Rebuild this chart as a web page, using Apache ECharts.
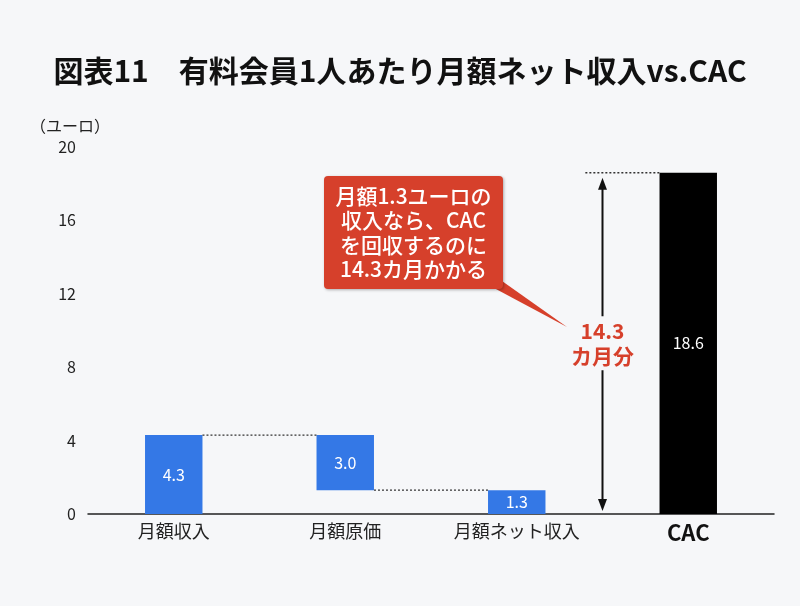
<!DOCTYPE html>
<html>
<head>
<meta charset="utf-8">
<script src="https://cdn.jsdelivr.net/npm/echarts@6/dist/echarts.min.js"></script>
<style>
html,body{margin:0;padding:0;background:#f6f7f9;}
#c{width:800px;height:606px;}
</style>
</head>
<body>
<div id="c"></div>
<script>
const categories = ['月額収入', '月額原価', '月額ネット収入', 'CAC'];
const baseValues = [0, 1.3, 0, 0];
const barValues = [4.3, 3.0, 1.3, 18.6];
const yTicks = [0, 4, 8, 12, 16, 20];
const connectorLevels = [4.3, 1.3]; // between bar i and i+1
const cacValue = 18.6;
const paybackMonths = 14.3;

const FONT = '"Noto Sans CJK JP", "Noto Sans", sans-serif';
const BLUE = '#3478e6';
const RED = '#d6402b';
const BG = '#f6f7f9';
const BAR_RATIO = 0.335;

const chart = echarts.init(document.getElementById('c'));

function renderAnno(params, api) {
  const band = api.size([1, 0])[0];
  const half = band * BAR_RATIO / 2;
  const children = [];
  const dotted = { stroke: '#333', lineWidth: 1.4, lineDash: [2, 2] };
  connectorLevels.forEach(function (lv, i) {
    const p1 = api.coord([i, lv]);
    const p2 = api.coord([i + 1, lv]);
    children.push({ type: 'line', shape: { x1: p1[0] + half, y1: p1[1], x2: p2[0] - half, y2: p2[1] }, style: dotted });
  });
  const cacIdx = categories.length - 1;
  const prevTop = api.coord([cacIdx - 1, cacValue]);
  const cacTop = api.coord([cacIdx, cacValue]);
  const cacBot = api.coord([cacIdx, 0]);
  children.push({ type: 'line', shape: { x1: prevTop[0] + band * 0.4, y1: cacTop[1], x2: cacTop[0] - half, y2: cacTop[1] }, style: dotted });
  const x = (prevTop[0] + cacTop[0]) / 2;
  const yT = cacTop[1] + 5, yB = cacBot[1] - 3;
  children.push({ type: 'line', shape: { x1: x, y1: yT + 6, x2: x, y2: yB - 6 }, style: { stroke: '#111', lineWidth: 2 } });
  children.push({ type: 'polygon', shape: { points: [[x, yT], [x - 4.5, yT + 12], [x + 4.5, yT + 12]] }, style: { fill: '#111' } });
  children.push({ type: 'polygon', shape: { points: [[x, yB], [x - 4.5, yB - 12], [x + 4.5, yB - 12]] }, style: { fill: '#111' } });
  const midY = api.coord([cacIdx, cacValue / 2])[1];
  children.push({
    type: 'text', x: x, y: midY,
    style: {
      text: paybackMonths.toFixed(1) + '\nカ月分',
      fill: RED, font: 'bold 21px ' + FONT, lineHeight: 25,
      align: 'center', verticalAlign: 'middle',
      backgroundColor: BG, padding: [2, 0]
    }
  });
  return { type: 'group', children: children };
}

const option = {
  backgroundColor: BG,
  animation: false,
  title: {
    text: '図表11　有料会員1人あたり月額ネット収入vs.CAC',
    left: 'center', top: 51,
    textStyle: { fontFamily: FONT, fontSize: 30, fontWeight: 'bold', color: '#111' }
  },
  grid: { left: 88, right: 26, top: 147, bottom: 92, containLabel: false },
  xAxis: {
    type: 'category',
    data: categories,
    axisLine: { lineStyle: { color: '#222', width: 1.5 } },
    axisTick: { show: false },
    axisLabel: {
      margin: 8, color: '#222', fontFamily: FONT, fontSize: 18,
      formatter: function (v) { return v === 'CAC' ? '{b|CAC}' : v; },
      rich: { b: { fontFamily: FONT, fontSize: 22, fontWeight: 'bold', color: '#111' } }
    }
  },
  yAxis: {
    type: 'value', min: 0, max: 20, interval: 4,
    axisLine: { show: false }, axisTick: { show: false }, splitLine: { show: false },
    axisLabel: {
      margin: 12, color: '#222', fontFamily: FONT, fontSize: 16,
      formatter: function (v) { return yTicks.indexOf(v) >= 0 ? String(v) : ''; }
    }
  },
  graphic: [
    {
      type: 'text', left: 30, top: 118,
      style: { text: '（ユーロ）', fill: '#222', font: '16px ' + FONT }
    },
    {
      type: 'polygon', z: 100,
      shape: { points: [[494, 288], [502, 281], [567, 327]] },
      style: { fill: RED }
    },
    {
      type: 'rect', z: 100,
      shape: { x: 324, y: 176, width: 179, height: 113, r: 4 },
      style: { fill: RED, shadowBlur: 3, shadowColor: 'rgba(0,0,0,0.3)', shadowOffsetX: 1, shadowOffsetY: 1 }
    },
    {
      type: 'text', z: 101, x: 413.5, y: 232.5,
      style: {
        text: '月額1.3ユーロの\n収入なら、CAC\nを回収するのに\n' + paybackMonths.toFixed(1) + 'カ月かかる',
        fill: '#fff', font: '500 21px ' + FONT, lineHeight: 24.5,
        align: 'center', verticalAlign: 'middle'
      }
    }
  ],
  series: [
    {
      type: 'bar', stack: 'w', barWidth: (BAR_RATIO * 100) + '%',
      data: baseValues,
      itemStyle: { color: 'transparent' },
      silent: true
    },
    {
      type: 'bar', stack: 'w', barWidth: (BAR_RATIO * 100) + '%',
      data: barValues.map(function (v, i) {
        return { value: v, itemStyle: { color: i === categories.length - 1 ? '#000' : BLUE } };
      }),
      label: {
        show: true, position: 'inside', color: '#fff', fontFamily: FONT, fontSize: 16,
        formatter: function (p) { return Number(p.value).toFixed(1); }
      }
    },
    {
      type: 'custom',
      renderItem: renderAnno,
      data: [[0, 0]],
      z: 5,
      silent: true
    }
  ]
};
chart.setOption(option);
</script>
</body>
</html>
